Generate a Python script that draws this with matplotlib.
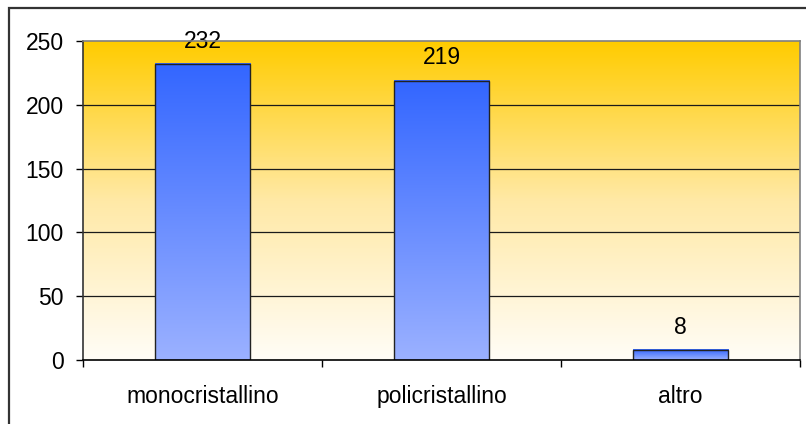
import numpy as np
import matplotlib.pyplot as plt
from matplotlib.colors import LinearSegmentedColormap
from matplotlib.patches import Rectangle

categories = ['monocristallino', 'policristallino', 'altro']
values = [232, 219, 8]
yticks = [0, 50, 100, 150, 200, 250]

plt.rcParams['font.family'] = ['Liberation Sans', 'DejaVu Sans']
plt.rcParams['font.size'] = 16.5

fig = plt.figure(figsize=(8.06, 4.24), dpi=100)
fig.patch.set_facecolor('white')

# outer frame of the chart object (runs off the right and bottom edge)
fig.patches.append(Rectangle((9 / 806, -0.05), 1.2, (424 - 8) / 424 + 0.05,
                             transform=fig.transFigure, fill=False,
                             edgecolor='#333333', linewidth=1.6, zorder=0))

ax = fig.add_axes([83 / 806, 64 / 424, 717 / 806, 319 / 424])
ax.set_xlim(-0.5, len(categories) - 0.5)
ax.set_ylim(0, 250)

# plot area background: gold at the top fading to white
bg = LinearSegmentedColormap.from_list('bg', ['#FFFDF7', '#FFE9A6', '#FFCC00'])
grad = np.linspace(0, 1, 256).reshape(-1, 1)
ax.imshow(grad, cmap=bg, origin='lower', aspect='auto',
          extent=(-0.5, len(categories) - 0.5, 0, 250), zorder=0)

for y in yticks[1:-1]:
    ax.axhline(y, color='#1a1a1a', linewidth=0.9, zorder=1)

# bars with a vertical blue gradient
barcm = LinearSegmentedColormap.from_list('bar', ['#9BB1FF', '#3366FF'])
width = 0.4
x = np.arange(len(categories))
for xi, v in zip(x, values):
    ax.imshow(grad, cmap=barcm, origin='lower', aspect='auto',
              extent=(xi - width / 2, xi + width / 2, 0, v), zorder=2)
bars = ax.bar(x, values, width=width, facecolor='none',
              edgecolor='#222222', linewidth=1.0, zorder=3)

for xi, v in zip(x, values):
    ax.annotate(str(v), (xi, v), xytext=(0, 8), textcoords='offset points',
                ha='center', va='bottom', zorder=4)

ax.set_xlim(-0.5, len(categories) - 0.5)
ax.set_ylim(0, 250)

ax.set_yticks(yticks)
ax.set_xticks(x)
ax.set_xticklabels(categories)
ax.set_xticks(np.arange(len(categories) + 1) - 0.5, minor=True)
ax.tick_params(axis='x', which='major', length=0, pad=18)
ax.tick_params(axis='x', which='minor', length=5, width=1, color='black')
ax.tick_params(axis='y', length=5, width=1, pad=9, color='black')

ax.spines['top'].set_color('#808080')
ax.spines['right'].set_color('#808080')
ax.spines['left'].set_color('#333333')
ax.spines['bottom'].set_color('black')
for s in ax.spines.values():
    s.set_linewidth(1.2)
    s.set_zorder(5)

fig.savefig('out.png', dpi=100)
